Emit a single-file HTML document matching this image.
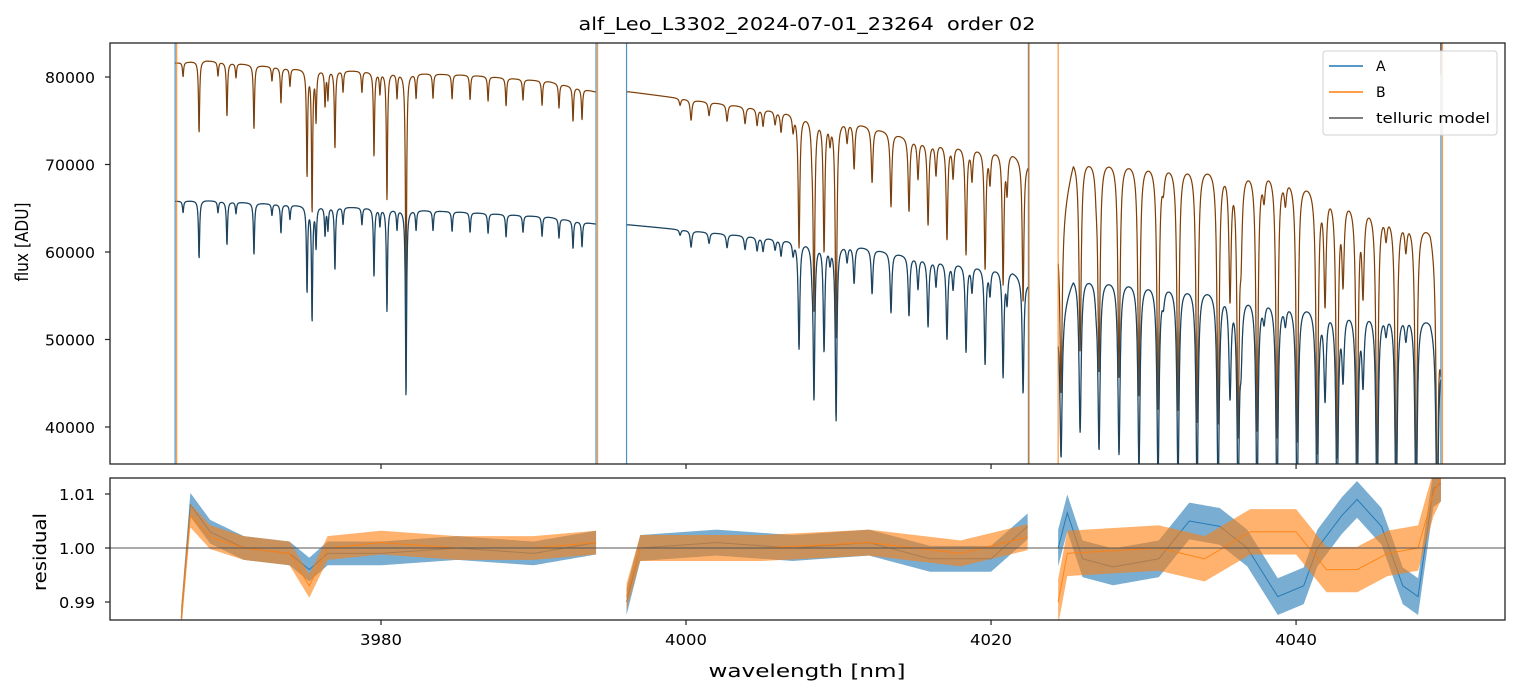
<!DOCTYPE html>
<html><head><meta charset="utf-8"><style>
html,body{margin:0;padding:0;background:#fff;}
svg{display:block;font-family:"DejaVu Sans","Liberation Sans",sans-serif;}
</style></head><body>
<svg id="chart" width="1520" height="696" viewBox="0 0 1520 696" xmlns="http://www.w3.org/2000/svg">
<defs>
<clipPath id="clipTop"><rect x="110" y="43" width="1395" height="421"/></clipPath>
<clipPath id="clipBot"><rect x="110" y="478" width="1395" height="142"/></clipPath>
</defs>
<rect width="1520" height="696" fill="#fff"/>
<text x="807" y="30" text-anchor="middle" font-size="18" textLength="457" lengthAdjust="spacingAndGlyphs">alf_Leo_L3302_2024-07-01_23264&#160; order 02</text>
<g id="topPlot" clip-path="url(#clipTop)"></g>
<g id="botPlot" clip-path="url(#clipBot)"></g>
<g id="axes"></g>
<text x="807" y="677" text-anchor="middle" font-size="18" textLength="197" lengthAdjust="spacingAndGlyphs">wavelength [nm]</text>
<text transform="translate(28,242) rotate(-90)" text-anchor="middle" font-size="18" textLength="79" lengthAdjust="spacingAndGlyphs">flux [ADU]</text>
<text transform="translate(46,552) rotate(-90)" text-anchor="middle" font-size="18" textLength="78" lengthAdjust="spacingAndGlyphs">residual</text>
<g>
<rect x="1323" y="51" width="174" height="84" rx="3" fill="#fff" fill-opacity="0.85" stroke="#d0d0d0"/>
<line x1="1329" y1="66" x2="1363" y2="66" stroke="#1f77b4" stroke-width="1.5"/>
<text x="1376" y="71" font-size="14">A</text>
<line x1="1329" y1="92" x2="1363" y2="92" stroke="#ff7f0e" stroke-width="1.5"/>
<text x="1376" y="97" font-size="14">B</text>
<line x1="1329" y1="118" x2="1363" y2="118" stroke="#555" stroke-width="1.5"/>
<text x="1376" y="123" font-size="14" textLength="114" lengthAdjust="spacingAndGlyphs">telluric model</text>
</g>
</svg>
<script>
// ---- data ----
const segments = [[3966.5, 3994.1], [3996.1, 4022.45], [4024.4, 4049.5]];
const contB_wl = [[3966.5,3968.5,3974,3980,3986,3991,3994.1],[3996.1,3996.3,4006.6,4010.95,4015.3,4021.4,4022.45],[4024.4,4025.4,4034.2,4038.5,4042.2,4047.3,4048.8,4049.2,4049.5]];
const contB_val = [[81600,81900,81000,80600,80200,79500,78300],[78300,78300,76000,74900,72800,71400,70200],[62000,70900,70000,69600,67300,64000,63000,60500,48000]];
const contA_val = [[65800,65900,65400,65000,64500,64000,63200],[63100,63100,61400,60800,59400,57900,56500],[52000,57400,56000,54700,53800,53200,52600,51000,47800]];
const lineCenters = [3967.02,3968.07,3969.31,3969.90,3970.49,3971.67,3972.85,3973.44,3974.03,3975.15,3975.48,3975.74,3976.33,3976.52,3976.98,3977.51,3978.75,3979.54,3979.93,3980.39,3981.05,3981.64,3982.30,3983.41,3984.66,3985.84,3987.02,3988.20,3989.31,3990.56,3991.67,3992.59,3993.18,
 3999.61,4000.33,4001.51,4002.69,4003.87,4004.66,4005.05,4005.84,4006.23,4007.02,4007.41,4008.26,4008.39,4009.05,4009.44,4009.84,4010.56,4011.02,4012.20,4013.44,4014.62,4015.21,4015.87,4016.39,4017.11,4017.51,4018.36,4018.75,4019.61,4019.93,4020.79,4021.05,4022.10,
 4024.59,4025.84,4027.08,4028.39,4029.70,4030.95,4032.26,4033.51,4034.89,4036.20,4037.44,4038.75,4040.07,4041.38,4042.69,4044.00,4045.31,4046.56,4047.87,4049.25,
 4035.67,4036.39,4041.90,4043.08,4044.39,4026.9,4031.3,4037.9,4039.3,4045.9,4047.2];
const lineDepths = [0.02,0.10,0.02,0.075,0.02,0.09,0.02,0.05,0.025,0.15,0.20,0.07,0.05,0.04,0.11,0.03,0.03,0.12,0.03,0.18,0.035,0.33,0.035,0.035,0.035,0.035,0.035,0.04,0.03,0.035,0.035,0.05,0.045,
 0.01,0.03,0.02,0.025,0.025,0.025,0.025,0.02,0.03,0.025,0.20,0.03,0.29,0.20,0.03,0.33,0.03,0.07,0.085,0.115,0.115,0.06,0.13,0.05,0.15,0.05,0.17,0.05,0.19,0.05,0.21,0.06,0.23,
 0.31,0.31,0.34,0.35,0.38,0.40,0.40,0.42,0.42,0.43,0.43,0.44,0.44,0.45,0.45,0.45,0.46,0.46,0.46,0.46,
 0.21,0.11,0.19,0.14,0.15,0.03,0.03,0.04,0.04,0.04,0.05];
const lineWidths = [0.045, 0.065, 0.085];
const resA_wl = [[3966.9,3967.5,3968.8,3971,3974,3975.3,3976.5,3980,3985,3990,3994.1],[3996.1,3997,4002,4007,4012,4016,4020,4022.4],[4024.4,4025,4026,4028,4031,4033,4035,4036.8,4038.8,4040.5,4041.4,4043,4044,4045.6,4047,4048,4049,4049.5]];
const resA_val = [[0.987,1.008,1.003,1.0,0.999,0.996,0.999,0.999,1.0,0.999,1.001],[0.99,1.0,1.001,1.0,1.001,0.998,0.998,1.004],[1.0,1.0065,0.998,0.9965,0.998,1.005,1.004,1.0,0.991,0.993,1.0,1.006,1.009,1.004,0.993,0.991,1.011,1.012]];
const resB_wl = [[3966.9,3967.5,3968.8,3971,3974,3975.3,3976.5,3980,3985,3990,3994.1],[3996.1,3997,4005,4012,4018,4022.4],[4024.4,4025,4031,4034,4037,4040,4042,4044,4046,4048,4049,4049.5]];
const resB_val = [[0.987,1.006,1.002,1.0,0.999,0.993,1.0,1.001,1.0,1.0,1.001],[0.991,1.0,1.0,1.001,0.999,1.002],[0.99,0.999,1.0,0.998,1.003,1.003,0.996,0.996,0.999,1.0,1.01,1.013]];
const noiseA = [0.0022, 0.0024, 0.0034];
const noiseB = [0.0022, 0.0024, 0.0042];
const edgeA = [3966.5, 3994.1, 3996.1, 4022.45, 4049.5];
const edgeB = [3966.6, 3994.2, 4022.5, 4024.4, 4049.6];
const xTicks = [3980, 4000, 4020, 4040];
const yTicksTop = [40000, 50000, 60000, 70000, 80000];
const yTicksBot = [0.99, 1.00, 1.01];
const yTicksBotLabels = ["0.99", "1.00", "1.01"];

// ---- scales ----
const X0 = 110, X1 = 1505;
const xMin = 3962.23, xMax = 4053.7;
const sx = w => X0 + (w - xMin) / (xMax - xMin) * (X1 - X0);
const T0 = 43, T1 = 464, tMax = 83886, tMin = 35771;
const syT = v => T0 + (tMax - v) / (tMax - tMin) * (T1 - T0);
const B0 = 478, B1 = 620, bMax = 1.01296, bMin = 0.98667;
const syB = v => B0 + (bMax - v) / (bMax - bMin) * (B1 - B0);
const NS = "http://www.w3.org/2000/svg";
function mk(tag, attrs, parent) { const e = document.createElementNS(NS, tag); for (const k in attrs) e.setAttribute(k, attrs[k]); parent.appendChild(e); return e; }
function interp(xs, ys, x) {
  if (x <= xs[0]) return ys[0];
  for (let i = 1; i < xs.length; i++) if (x <= xs[i]) { const t = (x - xs[i-1]) / (xs[i] - xs[i-1]); return ys[i-1] + t * (ys[i] - ys[i-1]); }
  return ys[ys.length - 1];
}
function absorb(w, segIdx) {
  let f = 1; const hw = lineWidths[segIdx];
  for (let i = 0; i < lineCenters.length; i++) { const u = (w - lineCenters[i]) / hw; if (Math.abs(u) < 60) f *= 1 - lineDepths[i] / (1 + u * u); }
  return f;
}
const topG = document.getElementById('topPlot');
const botG = document.getElementById('botPlot');
const axesG = document.getElementById('axes');

const series = [
  {vals: contB_val, color: '#ff7f0e', name: 'flux-line-b'},
  {vals: contA_val, color: '#1f77b4', name: 'flux-line-a'}
];
series.forEach(s => {
  segments.forEach((seg, si) => {
    let d = '';
    for (let w = seg[0]; w <= seg[1]; w += 0.015) {
      const v = interp(contB_wl[si], s.vals[si], w) * absorb(w, si);
      d += (d ? 'L' : 'M') + sx(w).toFixed(2) + ',' + syT(v).toFixed(2);
    }
    const p = mk('path', {d: d, fill: 'none', stroke: s.color, 'stroke-width': 1.3, 'stroke-linejoin': 'round'}, topG);
    
    
    const m = mk('path', {d: d, fill: 'none', stroke: 'rgba(40,40,40,0.72)', 'stroke-width': 1, 'stroke-linejoin': 'round'}, topG);
    
    
  });
});
edgeA.forEach(w => {
  const l = mk('line', {x1: sx(w), x2: sx(w), y1: 43, y2: 464, stroke: '#1f77b4', 'stroke-width': 1.2, opacity: 0.8}, topG);
  
  
});
edgeB.forEach(w => {
  const l = mk('line', {x1: sx(w), x2: sx(w), y1: 43, y2: 464, stroke: '#ff7f0e', 'stroke-width': 1.2, opacity: 0.8}, topG);
  
  
});
const gEdge = mk('line', {x1: sx(4049.5), x2: sx(4049.5), y1: 43, y2: 75, stroke: '#555', 'stroke-width': 1.5}, topG);



const resSeries = [
  {wl: resA_wl, val: resA_val, amp: noiseA, color: '#1f77b4', name: 'residual-a'},
  {wl: resB_wl, val: resB_val, amp: noiseB, color: '#ff7f0e', name: 'residual-b'}
];
resSeries.forEach(s => {
  s.wl.forEach((xs, si) => {
    const upper = [], lower = [], mid = [];
    for (let w = xs[0]; w <= xs[xs.length - 1] + 1e-9; w += 0.05) {
      const v = interp(xs, s.val[si], w);
      upper.push(sx(w).toFixed(2) + ',' + syB(v + s.amp[si]).toFixed(2));
      lower.unshift(sx(w).toFixed(2) + ',' + syB(v - s.amp[si]).toFixed(2));
      mid.push(sx(w).toFixed(2) + ',' + syB(v).toFixed(2));
    }
    const band = mk('polygon', {points: upper.concat(lower).join(' '), fill: s.color, 'fill-opacity': 0.6}, botG);
    
    
    const line = mk('polyline', {points: mid.join(' '), fill: 'none', stroke: s.color, 'stroke-width': 1, opacity: 0.9}, botG);
    
    
  });
});
const ref = mk('line', {x1: 110, x2: 1505, y1: syB(1), y2: syB(1), stroke: '#555', 'stroke-width': 0.9}, botG);



[[T0, T1, 'flux-axes-frame'], [B0, B1, 'residual-axes-frame']].forEach(a => {
  const r = mk('rect', {x: X0, y: a[0], width: X1 - X0, height: a[1] - a[0], fill: 'none', stroke: '#222', 'stroke-width': 1.3}, axesG);
  
  
});
xTicks.forEach(t => {
  const x = sx(t);
  const t1 = mk('line', {x1: x, x2: x, y1: T1, y2: T1 + 5, stroke: '#222', 'stroke-width': 1.2}, axesG);
  
  
  const t2 = mk('line', {x1: x, x2: x, y1: B1, y2: B1 + 5, stroke: '#222', 'stroke-width': 1.2}, axesG);
  
  
  const lb = mk('text', {x: x, y: 645, 'text-anchor': 'middle', 'font-size': 15, textLength: 42, lengthAdjust: 'spacingAndGlyphs'}, axesG);
  lb.textContent = String(t);
  
  
});
yTicksTop.forEach(t => {
  const y = syT(t);
  const tk = mk('line', {x1: X0 - 5, x2: X0, y1: y, y2: y, stroke: '#222', 'stroke-width': 1.2}, axesG);
  
  
  const lb = mk('text', {x: 95, y: y + 6, 'text-anchor': 'end', 'font-size': 15, textLength: 50, lengthAdjust: 'spacingAndGlyphs'}, axesG);
  lb.textContent = String(t);
  
  
});
yTicksBot.forEach((t, i) => {
  const y = syB(t);
  const tk = mk('line', {x1: X0 - 5, x2: X0, y1: y, y2: y, stroke: '#222', 'stroke-width': 1.2}, axesG);
  
  
  const lb = mk('text', {x: 95, y: y + 6, 'text-anchor': 'end', 'font-size': 15, textLength: 36, lengthAdjust: 'spacingAndGlyphs'}, axesG);
  lb.textContent = yTicksBotLabels[i];
  
  
});
</script>
</body></html>
